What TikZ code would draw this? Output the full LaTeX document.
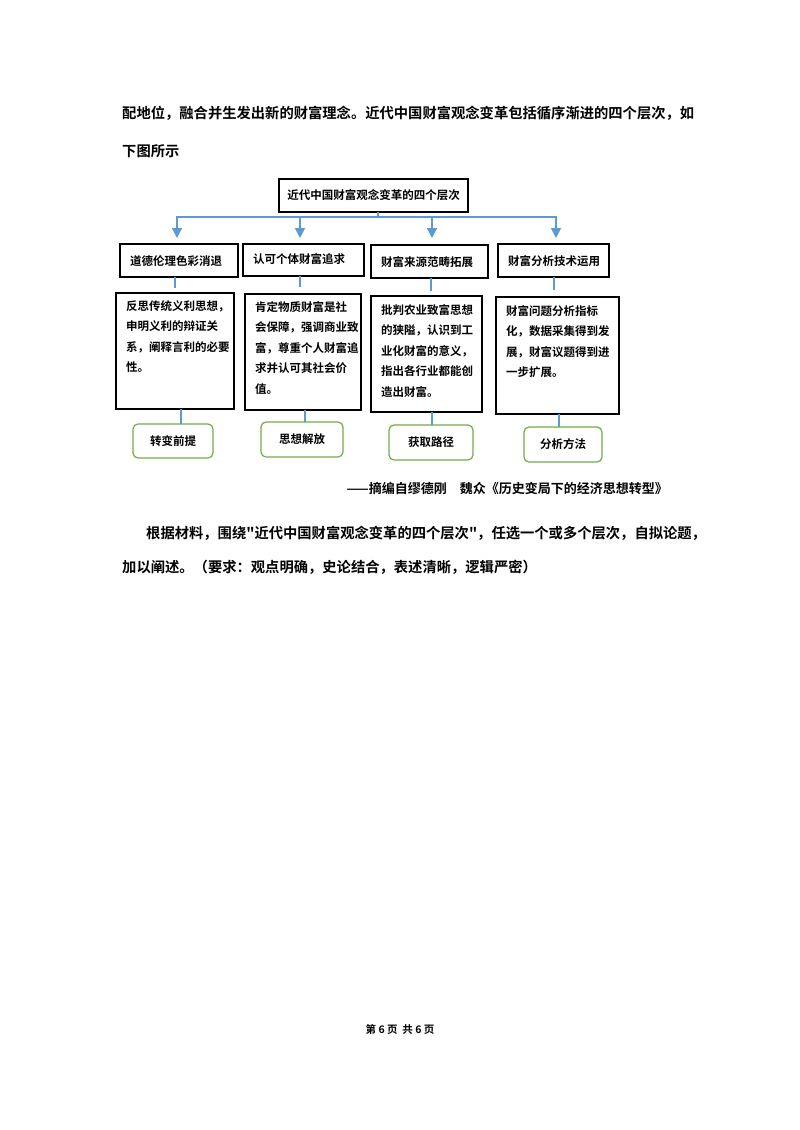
\documentclass[tikz,border=0pt]{standalone}
\usepackage{fontspec}
\setmainfont{Noto Sans CJK SC}
\newfontfamily\cjkb{Noto Sans CJK SC Bold}
\usetikzlibrary{arrows.meta}
\begin{document}
\begin{tikzpicture}[x=1pt,y=-1pt,
  blk/.style={draw=black,line width=1.2pt,inner sep=0pt},
  grn/.style={draw={rgb,255:red,112;green,173;blue,71},line width=1.2pt,rounded corners=5pt,inner sep=0pt},
  lnk/.style={line width=1.4pt,color={rgb,255:red,91;green,155;blue,213}},
  arr/.style={lnk,-{Triangle[length=10pt,width=10pt]}},
  t/.style={font=\cjkb\fontsize{11.5}{20.5}\selectfont,anchor=north west,align=left,inner sep=0pt},
  body/.style={font=\cjkb\fontsize{14.3}{16}\selectfont,anchor=west,inner sep=0pt}]
\useasboundingbox (0,0) rectangle (800,1130);
\node[body] (p1) at (122,113) {配地位，融合并生发出新的财富理念。近代中国财富观念变革包括循序渐进的四个层次，如};
\node[body] (p2) at (122,151) {下图所示};
% top
\draw[blk] (279,179) rectangle (468,212);
\node[t,anchor=center] (top) at (373.5,195.5) {近代中国财富观念变革的四个层次};
\draw[lnk] (378,212) -- (378,217);
\draw[lnk] (177,217) -- (556,217);
\foreach \x in {177,300,432,556}{\draw[arr] (\x,216) -- (\x,238);}
% row2
\draw[blk] (120,244) rectangle (238,277);
\draw[blk] (243,244) rectangle (364,276);
\draw[blk] (371,245) rectangle (488,278);
\draw[blk] (498,244) rectangle (609,277);
\node[t,anchor=west] (a1) at (130,261) {道德伦理色彩消退};
\node[t,anchor=west] (a2) at (253,259) {认可个体财富追求};
\node[t,anchor=west] (a3) at (381,262) {财富来源范畴拓展};
\node[t,anchor=west] (a4) at (508,261) {财富分析技术运用};
\draw[lnk] (175,277) -- (175,288);
\draw[lnk] (300,276) -- (300,287);
\draw[lnk] (431,278) -- (431,291);
\draw[lnk] (554,277) -- (554,290);
% row3
\draw[blk] (116,293) rectangle (234,409);
\draw[blk] (245,294) rectangle (361,410);
\draw[blk] (371,296) rectangle (482,412);
\draw[blk] (496,297) rectangle (619,414);
\node[t] (b1) at (126,300) {反思传统义利思想，\\申明义利的辩证关\\系，阐释言利的必要\\性。};
\node[t] (b2) at (255,301) {肯定物质财富是社\\会保障，强调商业致\\富，尊重个人财富追\\求并认可其社会价\\值。};
\node[t] (b3) at (381,304) {批判农业致富思想\\的狭隘，认识到工\\业化财富的意义，\\指出各行业都能创\\造出财富。};
\node[t] (b4) at (506,305) {财富问题分析指标\\化，数据采集得到发\\展，财富议题得到进\\一步扩展。};
\draw[lnk] (181,409) -- (181,424);
\draw[lnk] (305,410) -- (305,422);
\draw[lnk] (432,412) -- (432,425);
\draw[lnk] (559,414) -- (559,427);
% row4
\draw[grn] (133,424) rectangle (213,458);
\draw[grn] (261,422) rectangle (343,457);
\draw[grn] (389,425) rectangle (473,460);
\draw[grn] (524,427) rectangle (602,462);
\node[t,anchor=center] (c1) at (173,441) {转变前提};
\node[t,anchor=center] (c2) at (302,439.5) {思想解放};
\node[t,anchor=center] (c3) at (431,442.5) {获取路径};
\node[t,anchor=center] (c4) at (563,444.5) {分析方法};
\node[body,font=\cjkb\fontsize{13}{15}\selectfont,anchor=east] (src) at (668,488) {——摘编自缪德刚\quad 魏众《历史变局下的经济思想转型》};
\node[body] (q1) at (146,533) {根据材料，围绕"近代中国财富观念变革的四个层次"，任选一个或多个层次，自拟论题，};
\node[body] (q2) at (122,567) {加以阐述。（要求：观点明确，史论结合，表述清晰，逻辑严密）};
\node[font=\cjkb\fontsize{10.5}{12}\selectfont,inner sep=0pt] (ft) at (400,1029) {第\ 6\ 页\ \ 共\ 6\ 页};
\end{tikzpicture}
\end{document}
